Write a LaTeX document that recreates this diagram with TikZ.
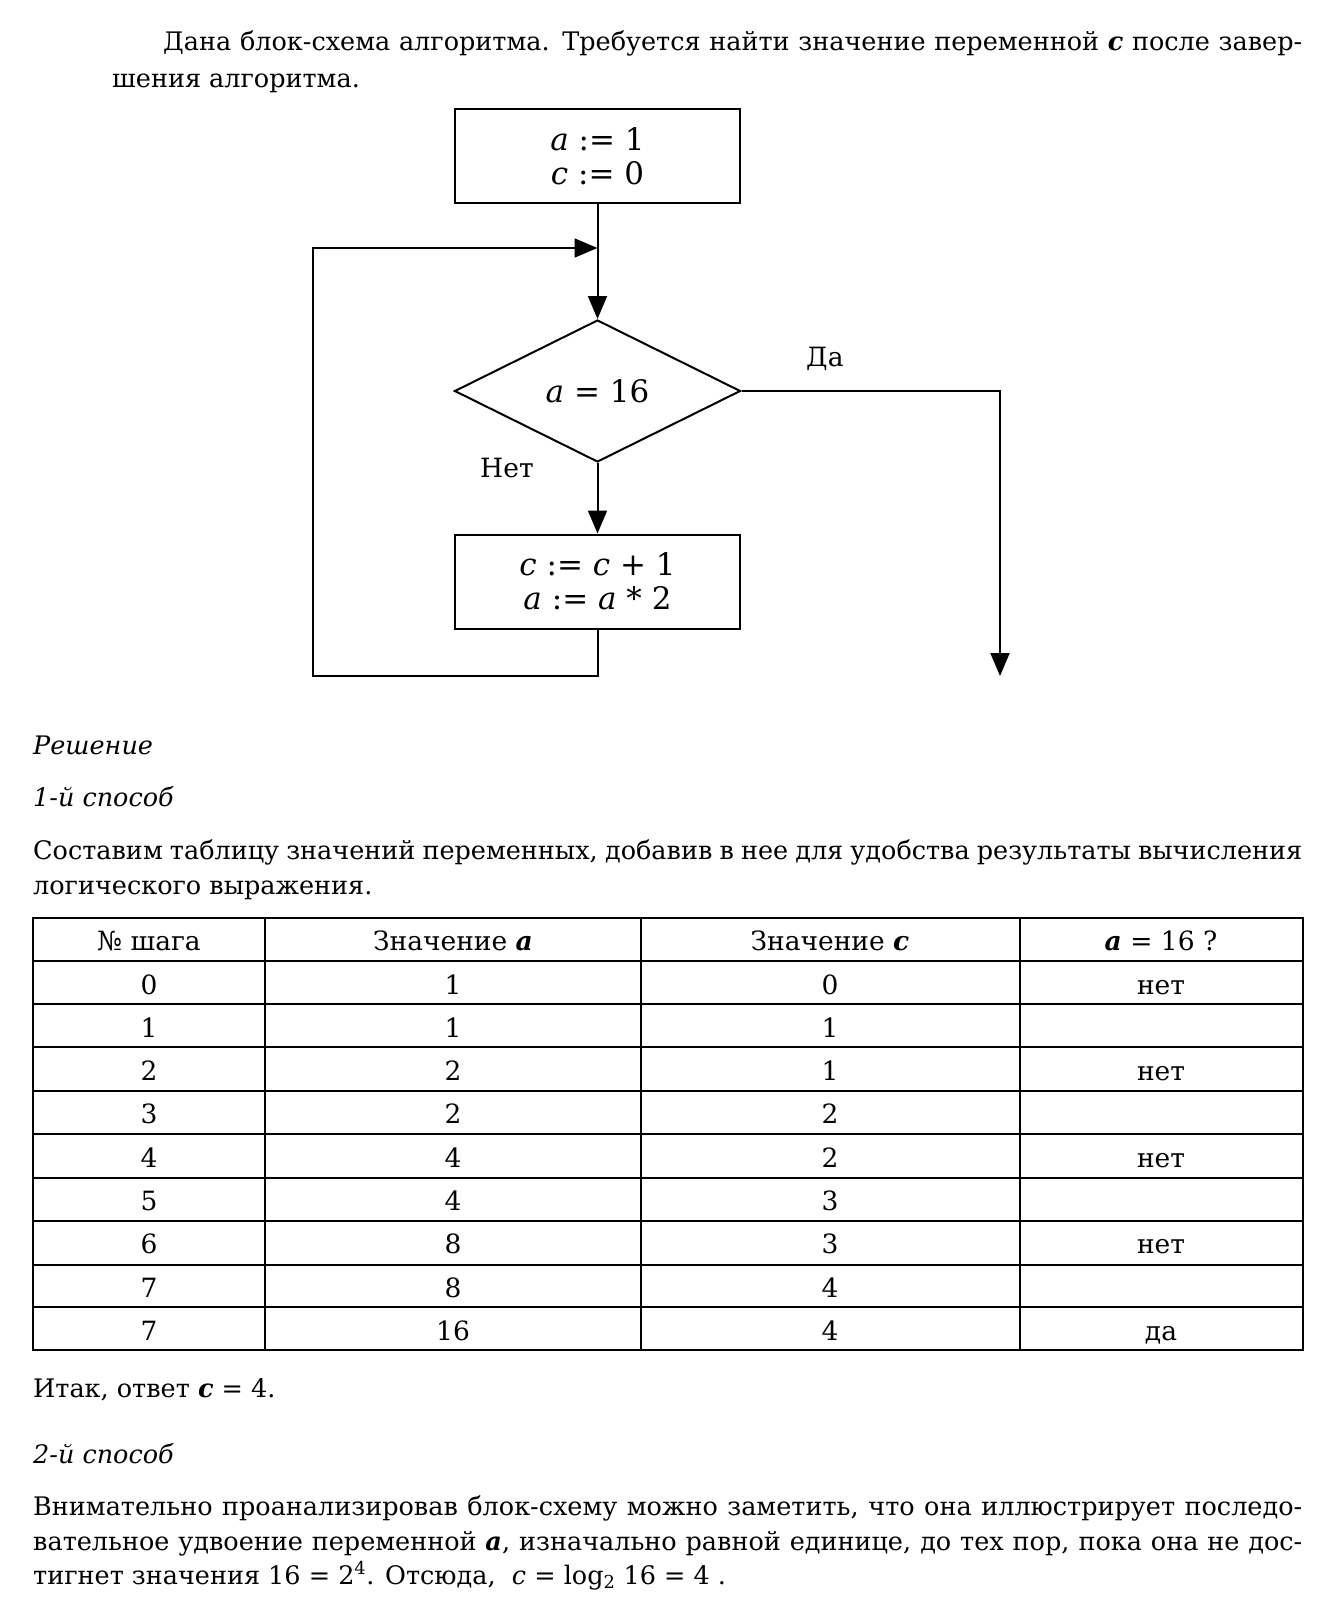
\documentclass[tikz,border=0pt]{standalone}
\usepackage{fontspec}
\setmainfont{DejaVu Serif}
\usetikzlibrary{shapes.geometric,arrows.meta}
\newcommand{\bodyfont}{\fontsize{25.5}{32}\selectfont}
\newcommand{\cellfont}{\fontsize{26.5}{32}\selectfont}
\newcommand{\flowfont}{\fontsize{31}{34}\selectfont}
\newcommand{\bv}[1]{\textbf{\textit{#1}}}
\begin{document}
\begin{tikzpicture}[x=1pt,y=-1pt,
  flow/.style={line width=2pt},
  arr/.style={-{Triangle[length=23pt,width=19pt]}},
  block/.style={draw,line width=2pt,minimum width=285pt,minimum height=94pt,align=center,font=\flowfont,inner sep=0pt},
  decision/.style={diamond,draw,line width=2pt,minimum width=286pt,minimum height=142pt,inner sep=0pt,font=\flowfont},
  txt/.style={anchor=base west,inner sep=0pt,font=\bodyfont},
  cell/.style={anchor=base,inner sep=0pt,font=\cellfont},
  grid/.style={line width=2pt}]
\useasboundingbox (0,0) rectangle (1335,1600);
\fill[white] (0,0) rectangle (1335,1600);

% intro text
\node[txt] (p1) at (163,51) {\makebox[1139pt][s]{Дана блок-схема алгоритма. Требуется найти значение переменной \bv{c} после завер-}};
\node[txt] (p2) at (112,88) {шения алгоритма.};

% flowchart
\node[block] (init) at (597.5,156) {\textit{a} := 1\\\textit{c} := 0};
\node[decision] (cond) at (597.5,391) {\textit{a} = 16};
\node[block] (body) at (597.5,581.5) {\textit{c} := \textit{c} + 1\\\textit{a} := \textit{a} * 2};
\coordinate (merge) at (597.5,248);
\coordinate (lb) at (597.5,676);
\coordinate (ll) at (313,676);
\coordinate (lt) at (313,248);
\coordinate (yr) at (1000,391);
\coordinate (yend) at (1000,676);
\draw[flow,arr] (init.south) -- (cond.north);
\draw[flow,arr] (cond.south) -- (body.north);
\draw[flow,arr] (body.south) -- (lb) -- (ll) -- (lt) -- (merge);
\draw[flow,arr] (cond.east) -- (yr) -- (yend);
\node[txt,font=\cellfont] (yes) at (806,366) {Да};
\node[txt,font=\cellfont] (no) at (480,477) {Нет};

% solution
\node[txt] (sol) at (33,754) {\textit{Решение}};
\node[txt] (m1) at (33,806) {\textit{1-й способ}};
\node[txt] (q1) at (33,859) {\makebox[1269pt][s]{Составим таблицу значений переменных, добавив в нее для удобства результаты вычисления}};
\node[txt] (q2) at (33,894) {логического выражения.};

% table
\draw[grid] (33,917.5) rectangle (1303,1350);
\foreach \y in {961.4,1004.3,1047.1,1091,1133.9,1177.8,1220.6,1264.5,1307.4}
  \draw[grid] (33,\y) -- (1303,\y);
\foreach \x in {265,641,1020}
  \draw[line width=1.6pt] (\x,917.5) -- (\x,1350);
\node[cell] (h1) at (149,950) {№ шага};
\node[cell] (h2) at (453,950) {Значение \bv{a}};
\node[cell] (h3) at (830,950) {Значение \bv{c}};
\node[cell] (h4) at (1161,950) {\bv{a} = 16 ?};
\foreach \n/\a/\c/\r [count=\i from 0] in {0/1/0/нет,1/1/1/,2/2/1/нет,3/2/2/,4/4/2/нет,5/4/3/,6/8/3/нет,7/8/4/,7/16/4/да}{
  \pgfmathsetmacro{\yy}{982+43.3*\i+12}
  \node[cell] at (149,\yy) {\n};
  \node[cell] at (453,\yy) {\a};
  \node[cell] at (830,\yy) {\c};
  \node[cell] at (1161,\yy) {\r};
}

\node[txt] (ans) at (33,1397) {Итак, ответ \bv{c} = 4.};
\node[txt] (m2) at (33,1463) {\textit{2-й способ}};
\node[txt] (r1) at (33,1515) {\makebox[1269pt][s]{Внимательно проанализировав блок-схему можно заметить, что она иллюстрирует последо-}};
\node[txt] (r2) at (33,1550) {\makebox[1269pt][s]{вательное удвоение переменной \bv{a}, изначально равной единице, до тех пор, пока она не дос-}};
\node[txt] (r3) at (33,1584) {тигнет значения 16 = 2\textsuperscript{4}. Отсюда, \ \textit{c} = log\textsubscript{2} 16 = 4 .};
\end{tikzpicture}
\end{document}
